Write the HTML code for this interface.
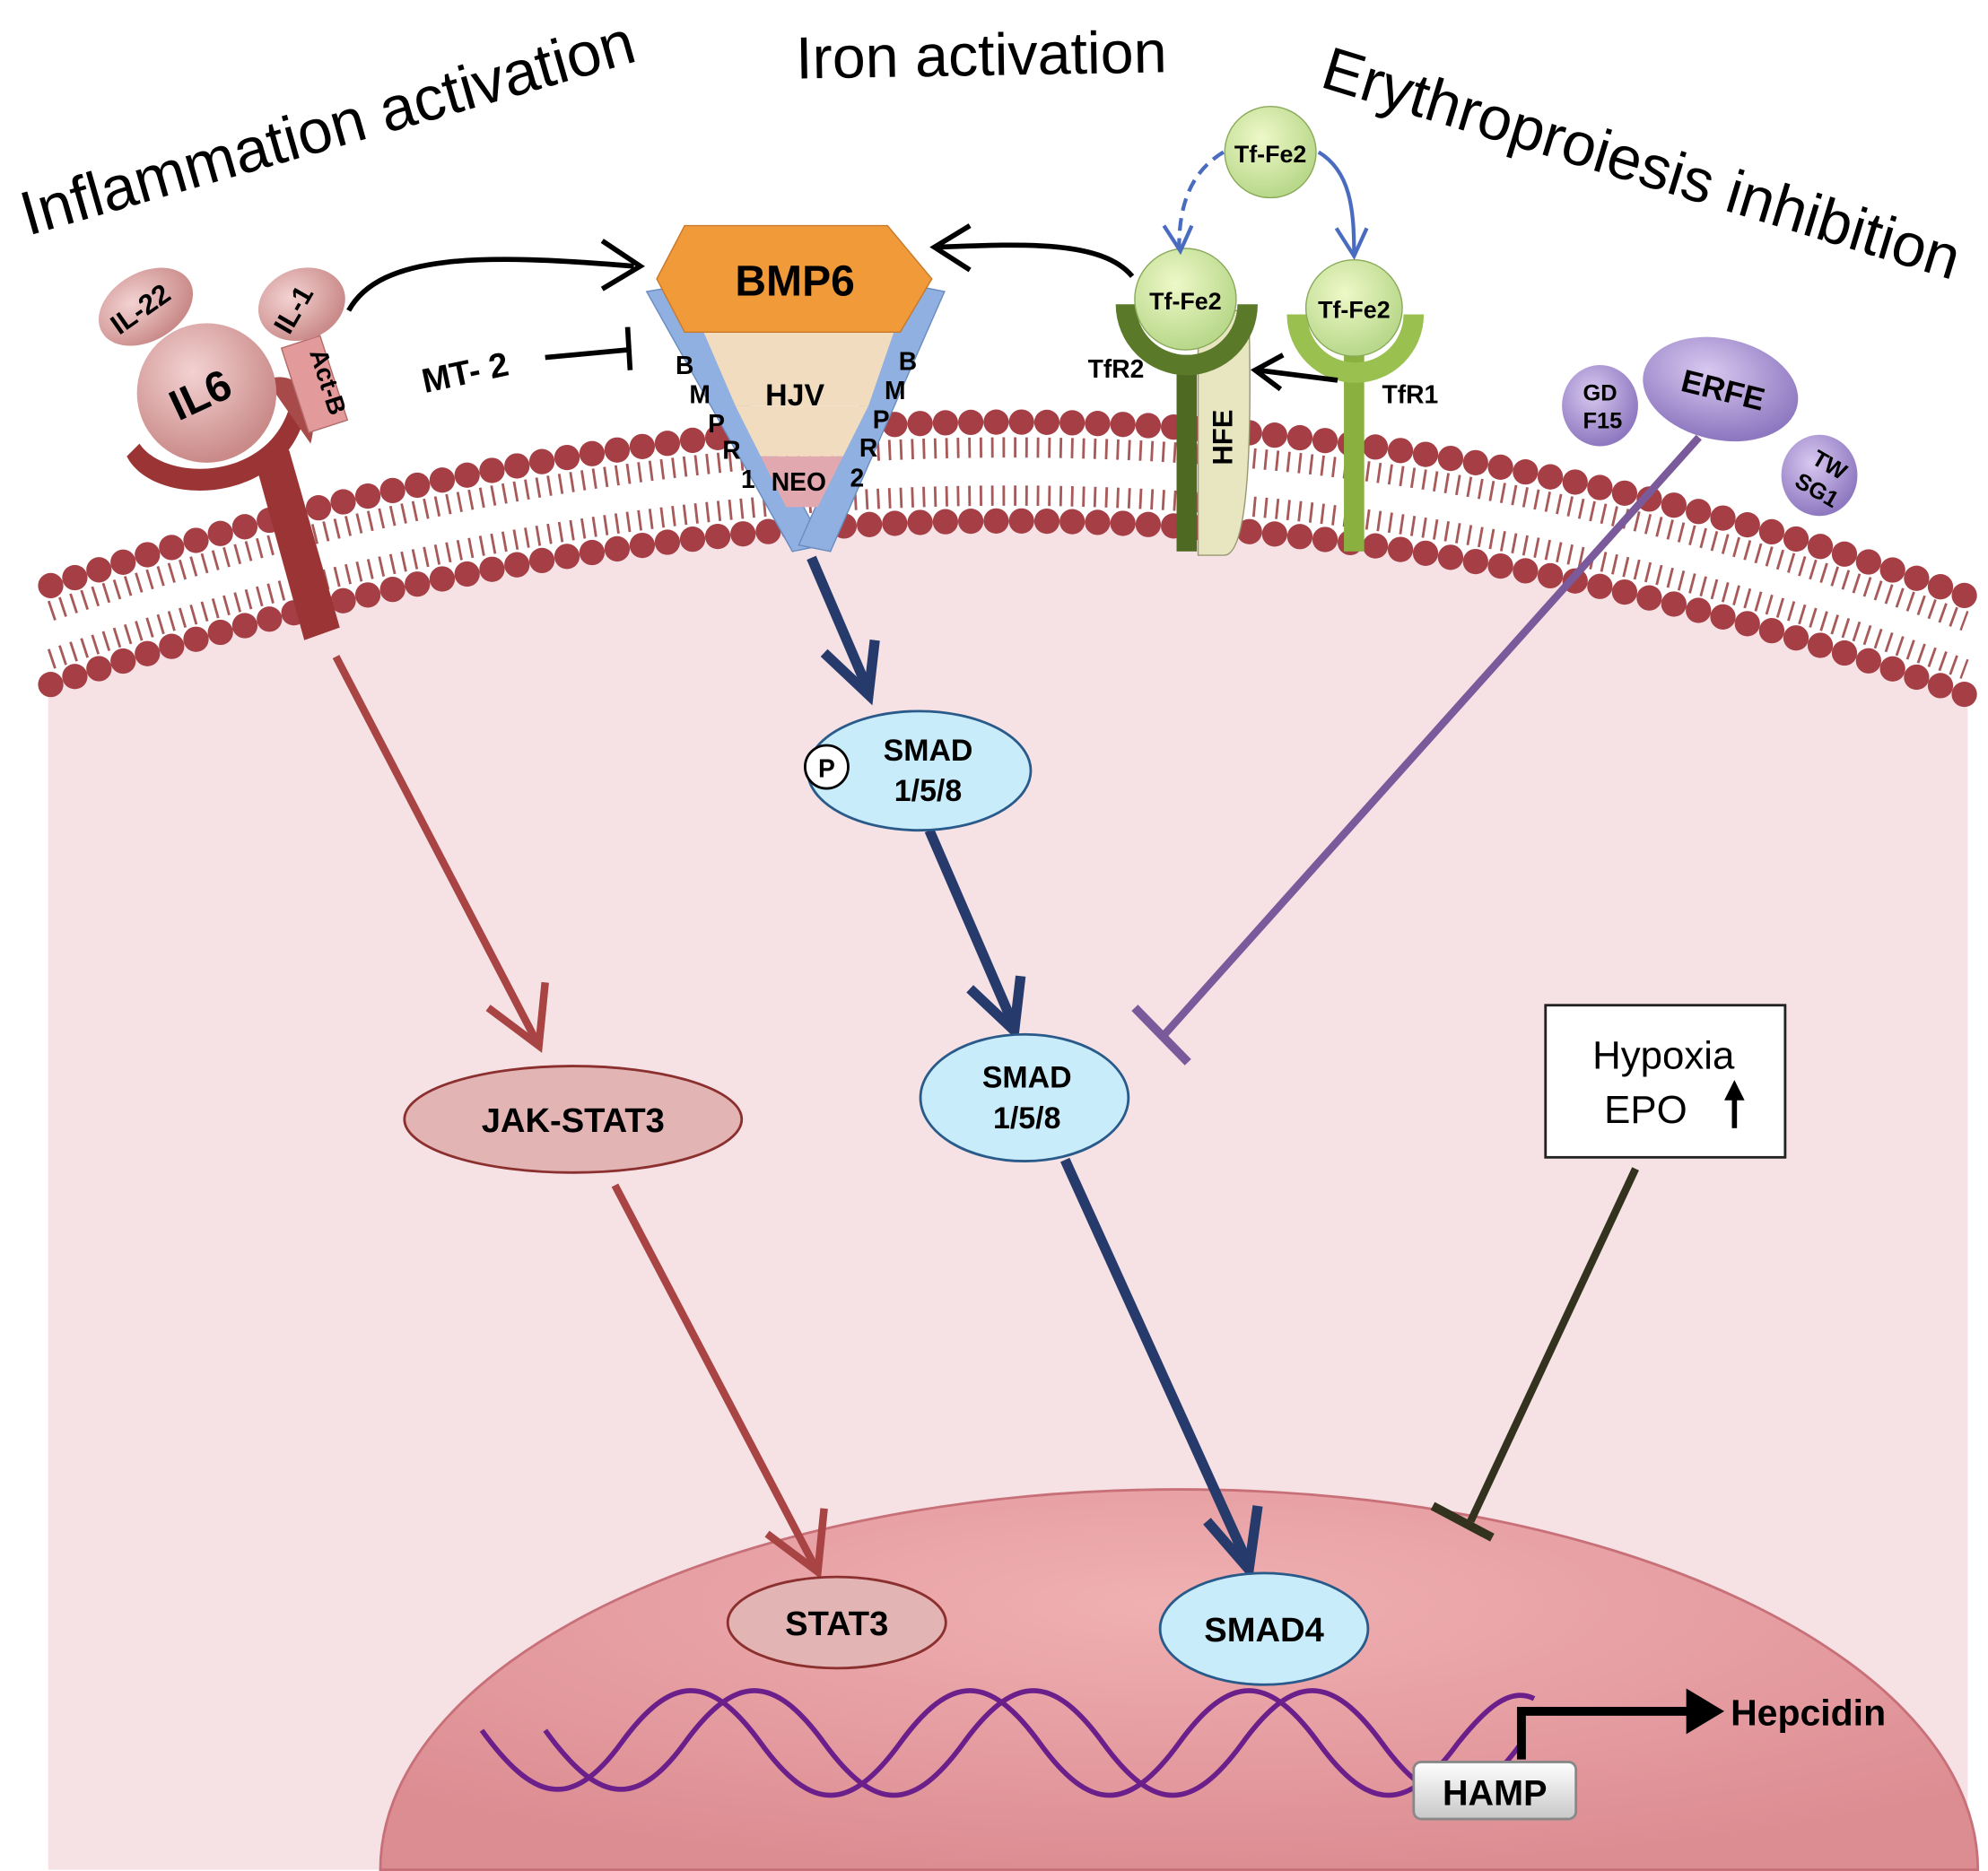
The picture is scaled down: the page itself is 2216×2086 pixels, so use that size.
<!DOCTYPE html>
<html><head><meta charset="utf-8"><style>
html,body{margin:0;padding:0;background:#fff}
svg{display:block}
text{font-family:"Liberation Sans",sans-serif}
</style></head><body>
<svg width="2216" height="2086" viewBox="0 0 1568 1476" xmlns="http://www.w3.org/2000/svg">
<defs>
<radialGradient id="nuc" cx="50%" cy="30%" r="70%"><stop offset="0" stop-color="#f0b0b2"/><stop offset="1" stop-color="#dc8d92"/></radialGradient>
<radialGradient id="grn" cx="40%" cy="35%" r="65%"><stop offset="0" stop-color="#eef8c8"/><stop offset="1" stop-color="#b8d88a"/></radialGradient>
<radialGradient id="pk" cx="40%" cy="35%" r="65%"><stop offset="0" stop-color="#f3d2d2"/><stop offset="1" stop-color="#c98a88"/></radialGradient>
<radialGradient id="pur" cx="40%" cy="35%" r="65%"><stop offset="0" stop-color="#d8c8f0"/><stop offset="1" stop-color="#8e78c0"/></radialGradient>
<linearGradient id="hamp" x1="0" y1="0" x2="0" y2="1"><stop offset="0" stop-color="#fff"/><stop offset="1" stop-color="#c8c8c8"/></linearGradient>
</defs>
<path d="M38,540 Q820,278 1552,548 L1552,1475 L38,1475 Z" fill="#f6e2e5"/>
<g fill="none" stroke="#a85a5a" stroke-width="16" stroke-dasharray="2 7">
<path d="M40,482 Q820,220 1550,490"/>
<path d="M40,520 Q820,258 1550,528"/>
</g>
<g fill="none" stroke="#a53f45" stroke-width="20" stroke-linecap="round" stroke-dasharray="0 20">
<path d="M40,462 Q820,200 1550,470"/>
<path d="M40,540 Q820,278 1550,548"/>
</g>
<path d="M300,1475 A630,300 0 0 1 1560,1475 Z" fill="url(#nuc)" stroke="#c87078" stroke-width="2"/>
<g fill="none" stroke="#6a1f8a" stroke-width="4">
<path d="M380,1365 C420,1420 450,1430 490,1375 C530,1320 560,1320 600,1375 C640,1430 670,1430 710,1375 C750,1320 780,1320 820,1375 C860,1430 890,1430 930,1375 C970,1320 1000,1320 1040,1375 C1080,1430 1110,1430 1150,1375 C1170,1350 1190,1330 1210,1340"/>
<path d="M430,1365 C470,1420 500,1430 540,1375 C580,1320 610,1320 650,1375 C690,1430 720,1430 760,1375 C800,1320 830,1320 870,1375 C910,1430 940,1430 980,1375 C1020,1320 1050,1320 1090,1375 C1130,1430 1160,1430 1200,1375"/>
</g>
<rect x="1115" y="1390" width="128" height="45" rx="6" fill="url(#hamp)" stroke="#888" stroke-width="2"/>
<text x="1179" y="1424" font-size="28" font-weight="bold" text-anchor="middle">HAMP</text>
<path d="M1200,1388 V1350 H1340" fill="none" stroke="#000" stroke-width="7"/>
<path d="M1330,1332 L1360,1350 L1330,1368 Z" fill="#000"/>
<text x="1365" y="1361" font-size="29" font-weight="bold">Hepcidin</text>
<text transform="translate(22,186) rotate(-16)" font-size="49">Inflammation activation</text>
<text transform="translate(628,62) rotate(-1)" font-size="47">Iron activation</text>
<text transform="translate(1040,68) rotate(17)" font-size="48">Erythroproiesis inhibition</text>
<path d="M200,360 L240,505 L268,495 L228,355 Z" fill="#9b3535"/>
<path d="M100,360 C120,400 220,400 240,330 L228,322 C210,380 130,380 110,350 Z" fill="#9b3535"/>
<path d="M210,300 C230,290 255,310 245,350" fill="#a84a4a"/>
<circle cx="163" cy="310" r="55" fill="url(#pk)"/>
<text transform="translate(163,322) rotate(-25)" font-size="34" font-weight="bold" text-anchor="middle">IL6</text>
<ellipse cx="115" cy="242" rx="40" ry="27" transform="rotate(-30 115 242)" fill="url(#pk)"/>
<text transform="translate(115,250) rotate(-35)" font-size="22" font-weight="bold" text-anchor="middle">IL-22</text>
<rect x="232" y="268" width="32" height="70" transform="rotate(-18 248 303)" fill="#e29a9a" stroke="#b56a6a"/>
<text transform="translate(244,278) rotate(72)" font-size="20" font-weight="bold">Act-B</text>
<ellipse cx="238" cy="240" rx="35" ry="28" transform="rotate(-20 238 240)" fill="url(#pk)"/>
<text transform="translate(238,248) rotate(-60)" font-size="22" font-weight="bold" text-anchor="middle">IL-1</text>
<path d="M275,245 C300,200 380,200 500,210" fill="none" stroke="#000" stroke-width="4"/>
<path d="M475,190 L505,210 L475,228" fill="none" stroke="#000" stroke-width="4"/>
<text transform="translate(335,310) rotate(-12)" font-size="27" font-weight="bold">MT- 2</text>
<path d="M430,282 L495,276 M495,258 L497,292" stroke="#000" stroke-width="4"/>
<path d="M510,230 L540,225 L650,430 L625,435 Z" fill="#8fb0e0" stroke="#6a8cc0"/>
<path d="M745,230 L720,225 L630,430 L655,435 Z" fill="#8fb0e0" stroke="#6a8cc0"/>
<path d="M555,262 L705,262 L685,320 L580,320 Z" fill="#f1dcc0"/>
<path d="M580,320 L685,320 L665,360 L600,360 Z" fill="#f1dcc0"/>
<path d="M600,360 L665,360 L645,400 L620,400 Z" fill="#e2a8b0"/>
<path d="M540,178 L700,178 L735,220 L710,262 L540,262 L518,220 Z" fill="#f09a3a" stroke="#c8782a"/>
<text x="627" y="233" font-size="34" font-weight="bold" text-anchor="middle">BMP6</text>
<text x="627" y="320" font-size="24" font-weight="bold" text-anchor="middle">HJV</text>
<text x="630" y="387" font-size="20" font-weight="bold" text-anchor="middle">NEO</text>
<g font-size="20" font-weight="bold" text-anchor="middle">
<text x="540" y="295">B</text><text x="552" y="318">M</text><text x="565" y="341">P</text><text x="577" y="362">R</text><text x="590" y="385">1</text>
<text x="716" y="292">B</text><text x="706" y="315">M</text><text x="695" y="338">P</text><text x="685" y="360">R</text><text x="676" y="384">2</text>
</g>
<path d="M945,245 L985,245 Q990,440 965,438 L945,438 Z" fill="#e8e6c0" stroke="#9a9870"/>
<text transform="translate(972,345) rotate(-90)" font-size="22" font-weight="bold" text-anchor="middle">HFE</text>
<rect x="928" y="280" width="16" height="155" fill="#4e6a22"/>
<path d="M880,240 A56,56 0 0 0 992,240 L976,240 A40,40 0 0 1 896,240 Z" fill="#5a7a2a"/>
<circle cx="935" cy="236" r="40" fill="url(#grn)" stroke="#8aaa5a"/>
<text x="935" y="244" font-size="19" font-weight="bold" text-anchor="middle">Tf-Fe2</text>
<rect x="1060" y="280" width="16" height="155" fill="#8ab040"/>
<path d="M1015,248 A54,54 0 0 0 1123,248 L1107,248 A38,38 0 0 1 1031,248 Z" fill="#9ac050"/>
<circle cx="1068" cy="243" r="38" fill="url(#grn)" stroke="#8aaa5a"/>
<text x="1068" y="251" font-size="19" font-weight="bold" text-anchor="middle">Tf-Fe2</text>
<circle cx="1002" cy="120" r="36" fill="url(#grn)" stroke="#8aaa5a"/>
<text x="1002" y="128" font-size="19" font-weight="bold" text-anchor="middle">Tf-Fe2</text>
<path d="M965,120 C940,135 930,160 930,195" fill="none" stroke="#4a6cc0" stroke-width="3" stroke-dasharray="10 6"/>
<path d="M1040,120 C1065,135 1068,165 1068,200" fill="none" stroke="#4a6cc0" stroke-width="3"/>
<path d="M918,178 L931,198 L940,178 M1054,180 L1068,202 L1078,180" fill="none" stroke="#4a6cc0" stroke-width="3"/>
<path d="M893,218 C870,190 810,192 740,195" fill="none" stroke="#000" stroke-width="4"/>
<path d="M765,178 L737,195 L765,213" fill="none" stroke="#000" stroke-width="4"/>
<path d="M1055,300 L992,292 M1012,280 L990,292 L1010,307" fill="none" stroke="#000" stroke-width="4"/>
<text x="858" y="298" font-size="20" font-weight="bold">TfR2</text>
<text x="1090" y="318" font-size="20" font-weight="bold">TfR1</text>
<path d="M1340,345 L915,820" stroke="#7a5a9a" stroke-width="6"/>
<path d="M895,795 L937,838" stroke="#7a5a9a" stroke-width="7"/>
<ellipse cx="1357" cy="307" rx="62" ry="40" transform="rotate(12 1357 307)" fill="url(#pur)"/>
<text transform="translate(1357,316) rotate(14)" font-size="25" font-weight="bold" text-anchor="middle">ERFE</text>
<ellipse cx="1262" cy="320" rx="30" ry="32" fill="url(#pur)"/>
<text x="1262" y="316" font-size="18" font-weight="bold" text-anchor="middle">GD</text><text x="1264" y="338" font-size="18" font-weight="bold" text-anchor="middle">F15</text>
<ellipse cx="1435" cy="375" rx="30" ry="32" fill="url(#pur)"/>
<text transform="translate(1440,372) rotate(30)" font-size="18" font-weight="bold" text-anchor="middle">TW</text><text transform="translate(1430,392) rotate(30)" font-size="18" font-weight="bold" text-anchor="middle">SG1</text>
<g fill="none" stroke-width="6">
<path d="M265,518 L425,825" stroke="#a84444"/>
<path d="M385,795 L425,825 L430,775" stroke="#a84444"/>
<path d="M485,935 L645,1240" stroke="#a84444"/>
<path d="M605,1210 L645,1240 L650,1190" stroke="#a84444"/>
<path d="M640,440 L685,545" stroke="#263a6b" stroke-width="8"/>
<path d="M650,515 L685,548 L690,505" stroke="#263a6b" stroke-width="8"/>
<path d="M733,655 L800,810" stroke="#263a6b" stroke-width="8"/>
<path d="M765,780 L800,813 L805,770" stroke="#263a6b" stroke-width="8"/>
<path d="M840,915 L985,1235" stroke="#263a6b" stroke-width="8"/>
<path d="M952,1200 L985,1238 L992,1188" stroke="#263a6b" stroke-width="8"/>
<path d="M1290,922 L1160,1200" stroke="#33321f"/>
<path d="M1130,1188 L1177,1213" stroke="#33321f" stroke-width="7"/>
</g>
<ellipse cx="725" cy="608" rx="88" ry="47" fill="#c9ecfb" stroke="#2a5a8a" stroke-width="2"/>
<text x="732" y="600" font-size="24" font-weight="bold" text-anchor="middle">SMAD</text>
<text x="732" y="632" font-size="24" font-weight="bold" text-anchor="middle">1/5/8</text>
<circle cx="652" cy="605" r="17" fill="#fff" stroke="#000" stroke-width="2"/>
<text x="652" y="613" font-size="20" font-weight="bold" text-anchor="middle">P</text>
<ellipse cx="808" cy="866" rx="82" ry="50" fill="#c9ecfb" stroke="#2a5a8a" stroke-width="2"/>
<text x="810" y="858" font-size="24" font-weight="bold" text-anchor="middle">SMAD</text>
<text x="810" y="890" font-size="24" font-weight="bold" text-anchor="middle">1/5/8</text>
<ellipse cx="997" cy="1285" rx="82" ry="44" fill="#c9ecfb" stroke="#2a5a8a" stroke-width="2"/>
<text x="997" y="1295" font-size="27" font-weight="bold" text-anchor="middle">SMAD4</text>
<ellipse cx="452" cy="883" rx="133" ry="42" fill="#e2b4b4" stroke="#8b2f2f" stroke-width="2"/>
<text x="452" y="893" font-size="27" font-weight="bold" text-anchor="middle">JAK-STAT3</text>
<ellipse cx="660" cy="1280" rx="86" ry="36" fill="#e2b4b4" stroke="#8b2f2f" stroke-width="2"/>
<text x="660" y="1290" font-size="27" font-weight="bold" text-anchor="middle">STAT3</text>
<rect x="1219" y="793" width="189" height="120" fill="#fff" stroke="#222" stroke-width="2"/>
<text x="1312" y="843" font-size="31" text-anchor="middle">Hypoxia</text>
<text x="1298" y="886" font-size="31" text-anchor="middle">EPO</text>
<path d="M1368,890 V865" stroke="#000" stroke-width="4"/>
<path d="M1360,868 L1368,852 L1376,868 Z" fill="#000"/>
</svg>
</body></html>
